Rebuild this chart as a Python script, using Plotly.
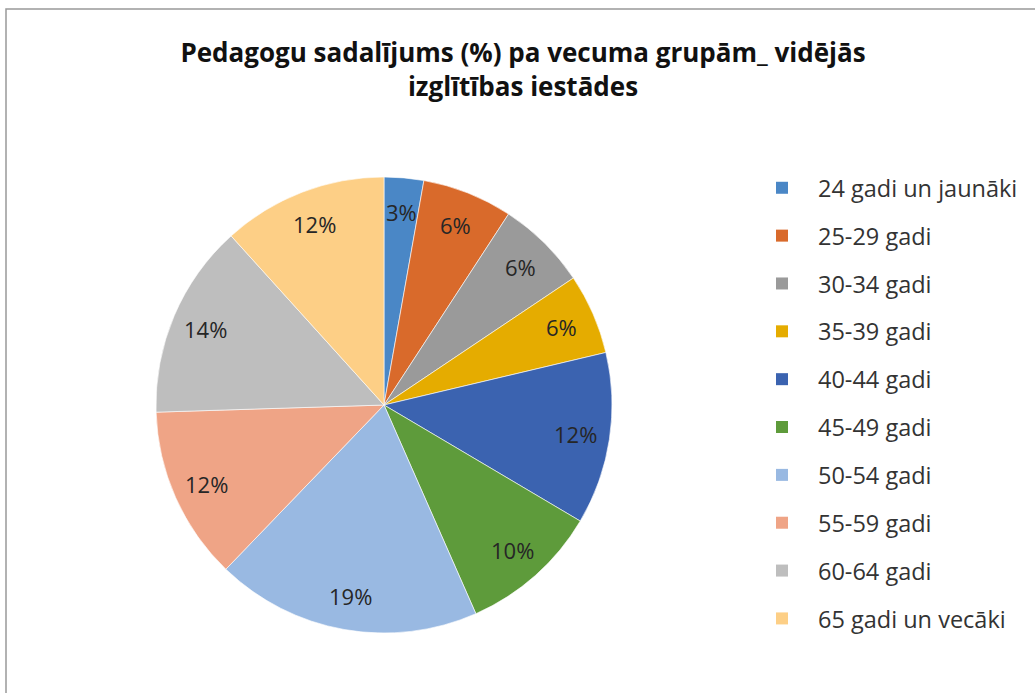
import math
import plotly.graph_objects as go

categories = ["24 gadi un jaunāki", "25-29 gadi", "30-34 gadi", "35-39 gadi", "40-44 gadi",
              "45-49 gadi", "50-54 gadi", "55-59 gadi", "60-64 gadi", "65 gadi un vecāki"]
values = [2.8, 6.4, 6.4, 5.7, 12.2, 9.9, 18.8, 12.3, 13.8, 11.7]
colors = ["#4A87C6", "#D96A2B", "#9A9A9A", "#E5AC00", "#3B63B0",
          "#5E9B3B", "#99B9E2", "#EFA486", "#BEBEBE", "#FDCF86"]

W, H = 1035, 693
CX, CY, R = 384, 405, 228      # pie centre / radius in pixels
LABEL_R = 0.85                  # label distance as a fraction of radius

fig = go.Figure()
fig.add_trace(go.Pie(
    labels=categories, values=values, sort=False, direction="clockwise", rotation=0,
    marker=dict(colors=colors, line=dict(color="rgba(255,255,255,0.6)", width=1)),
    textinfo="none",
    domain=dict(x=[(CX - R) / W, (CX + R) / W], y=[(H - CY - R) / H, (H - CY + R) / H]),
    showlegend=False, hoverinfo="label+percent",
))
for i, (c, col) in enumerate(zip(categories, colors)):
    fig.add_trace(go.Scatter(x=[None], y=[None], mode="markers", name=c, legendgroup=f"g{i}",
                             marker=dict(symbol="square", size=12, color=col)))

# percentage labels placed at each slice's mid-angle, derived from the values
total = sum(values)
annotations = []
cum = 0.0
for v in values:
    mid = (cum + v / 2) / total * 2 * math.pi
    cum += v
    px = CX + LABEL_R * R * math.sin(mid)
    py = CY - LABEL_R * R * math.cos(mid)
    annotations.append(dict(x=px / W, y=1 - py / H, xref="paper", yref="paper",
                            text=f"{round(v / total * 100)}%", showarrow=False,
                            xanchor="center", yanchor="middle",
                            font=dict(family="Open Sans", size=22, color="#262626")))

fig.update_layout(
    width=W, height=H, paper_bgcolor="white", plot_bgcolor="white",
    margin=dict(l=0, r=0, t=0, b=0),
    xaxis=dict(visible=False), yaxis=dict(visible=False),
    title=dict(text="Pedagogu sadalījums (%) pa vecuma grupām_ vidējās<br>izglītības iestādes",
               x=523 / W, xanchor="center", y=1 - 62 / H, yanchor="middle",
               font=dict(family="Open Sans", size=26, color="#111111", weight="bold")),
    legend=dict(x=746 / W, y=1 - 166 / H, xanchor="left", yanchor="top",
                font=dict(family="Open Sans", size=23.5, color="#333333"),
                traceorder="grouped", tracegroupgap=14.3, itemwidth=62),
    annotations=annotations,
    shapes=[dict(type="rect", xref="paper", yref="paper", x0=6 / W, x1=1.05, y0=-0.05, y1=1 - 9 / H,
                 line=dict(color="#999999", width=1.5), fillcolor="rgba(0,0,0,0)")],
)
fig.write_html("out.html", config={"displayModeBar": False},
               post_script="document.body.style.margin='0';")
